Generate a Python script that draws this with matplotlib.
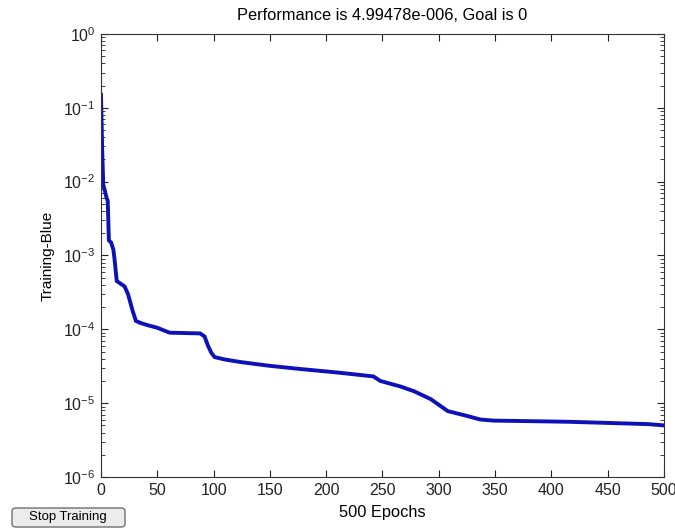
import numpy as np
import matplotlib
matplotlib.use("Agg")
import matplotlib.pyplot as plt
from matplotlib.patches import FancyBboxPatch

plt.rcParams['font.family'] = ['Liberation Sans', 'DejaVu Sans']
plt.rcParams['axes.unicode_minus'] = False

# training performance
epochs = [0, 1, 2, 3, 5, 6, 7, 9, 11, 12, 14, 19, 21, 24, 28, 31, 35, 42, 50,
          57, 61, 88, 92, 95, 98, 101, 110, 124, 150, 177, 210, 242, 248, 266,
          278, 293, 300, 308, 322, 337, 349, 382, 414, 450, 486, 500]
perf = [0.15, 0.03, 0.009, 0.008, 0.006, 0.0055, 0.0016, 0.0015, 0.0012,
        0.0009, 0.00045, 0.0004, 0.00038, 0.0003, 0.00018, 0.00013,
        0.000122, 0.000113, 0.000105, 0.000095, 0.00009, 0.000088, 0.00008,
        0.00006, 0.000048, 0.000042, 0.000039, 0.000036, 0.000032, 0.000029,
        0.000026, 0.000023, 0.00002, 0.0000168, 0.0000145, 0.0000113,
        0.0000095, 0.0000078, 0.0000069, 0.000006, 0.0000058, 0.0000057,
        0.0000056, 0.0000054, 0.0000052, 4.99478e-6]
xticks = [0, 50, 100, 150, 200, 250, 300, 350, 400, 450, 500]

fig = plt.figure(figsize=(6.75, 5.3), dpi=100)
ax = fig.add_axes([0.1496, 0.1, 0.8341, 0.836])
ax.semilogy(epochs, perf, color='#0c12b8', lw=2.8, solid_joinstyle='miter')
ax.set_xlim(0, 500)
ax.set_ylim(1e-6, 1)
ax.set_xticks(xticks)
ax.tick_params(which='both', direction='in', top=True, right=True,
               labelsize=11.5, colors='#222222')
ax.tick_params(which='major', length=5, pad=4)
ax.tick_params(which='minor', length=3)
for s in ax.spines.values():
    s.set_color('#333333')
ax.set_title('Performance is 4.99478e-006, Goal is 0', fontsize=11.8, pad=10)
ax.set_xlabel('500 Epochs', fontsize=11.8, labelpad=5)
ax.set_ylabel('Training-Blue', fontsize=11, labelpad=6)

# the "Stop Training" button
btn = FancyBboxPatch((12 / 675, 3 / 530), 113 / 675, 19 / 530,
                     boxstyle='round,pad=0,rounding_size=0.006',
                     transform=fig.transFigure, facecolor='#ececec',
                     edgecolor='#707070', lw=1)
fig.patches.append(btn)
fig.text(68 / 675, 13 / 530, 'Stop Training', ha='center', va='center',
         fontsize=9.5)

fig.savefig('out.png', dpi=100)
